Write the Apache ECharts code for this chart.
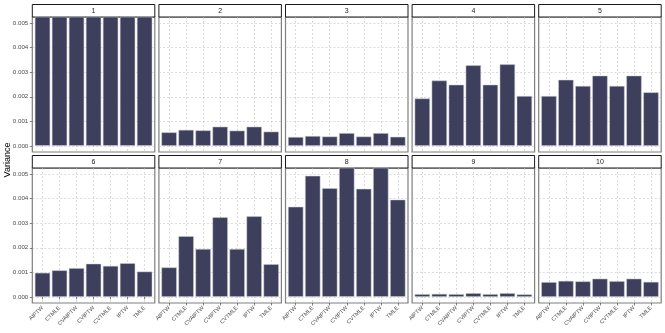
<!DOCTYPE html>
<html>
<head>
<meta charset="utf-8">
<script src="https://cdn.jsdelivr.net/npm/echarts@6/dist/echarts.min.js"></script>
<style>
html,body{margin:0;padding:0;background:#fff}
#main{width:665px;height:333px}
</style>
</head>
<body>
<div id="main"></div>
<script>
// categories on every panel
var methods = ['AIPTW', 'CTMLE', 'CVAIPTW', 'CVIPTW', 'CVTMLE', 'IPTW', 'TMLE'];
var panelNames = ['1', '2', '3', '4', '5', '6', '7', '8', '9', '10'];
var yTicks = [0, 0.001, 0.002, 0.003, 0.004, 0.005];
var xTicks = [1, 2, 3, 4, 5, 6, 7];

// variance per panel (panel 1 runs off the top)
var p1 = [0.0065, 0.0065, 0.0065, 0.0065, 0.0065, 0.0065, 0.0065];
var p2 = [0.00055, 0.00065, 0.00063, 0.00078, 0.00062, 0.00078, 0.00058];
var p3 = [0.00036, 0.00040, 0.00038, 0.00052, 0.00038, 0.00052, 0.00037];
var p4 = [0.00193, 0.00266, 0.00249, 0.00328, 0.00249, 0.00332, 0.00203];
var p5 = [0.00203, 0.00269, 0.00244, 0.00286, 0.00244, 0.00286, 0.00218];
var p6 = [0.00098, 0.00108, 0.00117, 0.00135, 0.00126, 0.00137, 0.00103];
var p7 = [0.00120, 0.00247, 0.00195, 0.00324, 0.00195, 0.00328, 0.00133];
var p8 = [0.00367, 0.00493, 0.00443, 0.0056, 0.00440, 0.0056, 0.00396];
var p9 = [0.00011, 0.00012, 0.00011, 0.00015, 0.00011, 0.00015, 0.00010];
var p10 = [0.00060, 0.00065, 0.00063, 0.00074, 0.00064, 0.00074, 0.00061];
var panelData = [p1, p2, p3, p4, p5, p6, p7, p8, p9, p10];

var panelLeft = 32.3, panelStep = 126.6, panelW = 122.5, panelH = 135;
var rowTop = [17, 168];
var stripH = 12.5;
var barColor = '#3D3F5C';
var gridColor = '#C4C4C4';
var none = 'rgba(0,0,0,0)';
var textColor = '#4D4D4D';
var yMin = -0.00025, yMax = 0.00525;

function isWhole(v, step) {
    var r = v / step;
    return Math.abs(r - Math.round(r)) < 1e-6;
}

function buildOption() {
    var grids = [], xAxes = [], yAxes = [], series = [], graphics = [];
    var tickX = [], tickY = [];
    for (var i = 0; i < panelNames.length; i++) {
        var row = Math.floor(i / 5), col = i % 5;
        var pLeft = panelLeft + col * panelStep;
        var pTop = rowTop[row];
        grids.push({
            left: pLeft, top: pTop, width: panelW, height: panelH,
            show: true, borderColor: '#7F7F7F', borderWidth: 1.2
        });
        // discrete x scale like ggplot: positions 1..7, padded by 0.6
        xAxes.push({
            type: 'value', gridIndex: i, min: 0.4, max: 7.6, interval: 0.2,
            axisLine: {show: false},
            axisTick: {show: false},
            axisLabel: {show: row === 1, rotate: 45, fontSize: 5.6, color: textColor,
                margin: 4, fontFamily: 'Liberation Sans', hideOverlap: false,
                formatter: function (v) {
                    return isWhole(v, 1) ? methods[Math.round(v) - 1] : '';
                }},
            // only the lines on whole positions are visible
            splitLine: {show: true, lineStyle: {color: [none, none, none, gridColor, none],
                width: 0.6, type: [2, 2]}}
        });
        yAxes.push({
            type: 'value', gridIndex: i, min: yMin, max: yMax, interval: 0.00025,
            axisLine: {show: false},
            axisTick: {show: false},
            axisLabel: {show: col === 0, fontSize: 6.2, color: textColor, margin: 4,
                fontFamily: 'Liberation Sans', hideOverlap: false,
                formatter: function (v) {
                    return (v >= 0 && v <= 0.0051 && isWhole(v, 0.001)) ? Number(v).toFixed(3) : '';
                }},
            splitLine: {show: true, lineStyle: {color: [none, gridColor, none, none],
                width: 0.6, type: [2, 2]}}
        });
        // outer tick marks on the outside panels
        if (row === 1) {
            tickX.push({
                type: 'value', gridIndex: i, min: 0.4, max: 7.6, position: 'bottom',
                axisLine: {show: false}, axisLabel: {show: false}, splitLine: {show: false},
                axisTick: {show: true, length: 2.5, customValues: xTicks,
                    lineStyle: {color: '#333', width: 0.6}}
            });
        }
        if (col === 0) {
            tickY.push({
                type: 'value', gridIndex: i, min: yMin, max: yMax, position: 'left',
                axisLine: {show: false}, axisLabel: {show: false}, splitLine: {show: false},
                axisTick: {show: true, length: 2.5, customValues: yTicks,
                    lineStyle: {color: '#333', width: 0.6}}
            });
        }
        series.push({
            type: 'bar', xAxisIndex: i, yAxisIndex: i,
            data: panelData[i].map(function (v, k) { return [k + 1, v]; }),
            barWidth: '90%',
            itemStyle: {color: barColor, borderColor: '#D0D0D8', borderWidth: 0.5}
        });
        // facet strip
        graphics.push({
            type: 'rect',
            shape: {x: pLeft, y: pTop - stripH, width: panelW, height: stripH},
            style: {fill: '#fff', stroke: '#1A1A1A', lineWidth: 1}
        });
        graphics.push({
            type: 'text', x: pLeft + panelW / 2, y: pTop - stripH / 2,
            style: {text: panelNames[i], fontSize: 7, fill: '#1A1A1A',
                fontFamily: 'Liberation Sans', align: 'center', verticalAlign: 'middle'}
        });
    }
    graphics.push({
        type: 'text', x: 8, y: 160, rotation: Math.PI / 2,
        style: {text: 'Variance', fontSize: 9, fill: '#000',
            fontFamily: 'Liberation Sans', align: 'center', verticalAlign: 'middle'}
    });
    return {
        backgroundColor: '#fff',
        animation: false,
        grid: grids,
        xAxis: xAxes.concat(tickX),
        yAxis: yAxes.concat(tickY),
        series: series,
        graphic: graphics
    };
}

var myChart = echarts.init(document.getElementById('main'));
myChart.setOption(buildOption());
</script>
</body>
</html>
